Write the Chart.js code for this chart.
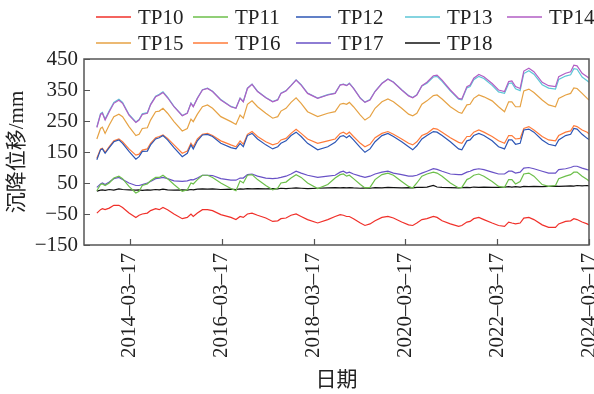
<!DOCTYPE html>
<html>
<head>
<meta charset="utf-8">
<script src="https://cdn.jsdelivr.net/npm/chart.js@4.4.1/dist/chart.umd.min.js"></script>
<style>
  html, body { margin: 0; padding: 0; background: #fff; }
  #wrap { width: 594px; height: 394px; }
</style>
</head>
<body>
<div id="wrap"><canvas id="settleChart" width="594" height="394"></canvas></div>
<script>
// fechas en años decimales
const dates = [
  2013.49, 2013.57, 2013.61, 2013.67, 2013.76, 2013.86, 2013.97, 2014.05, 2014.19, 2014.34,
  2014.41, 2014.48, 2014.59, 2014.66, 2014.77, 2014.85, 2014.93, 2015.03, 2015.17, 2015.35,
  2015.46, 2015.54, 2015.59, 2015.68, 2015.79, 2015.90, 2016.01, 2016.19, 2016.41, 2016.52,
  2016.61, 2016.68, 2016.77, 2016.87, 2016.99, 2017.17, 2017.32, 2017.43, 2017.50, 2017.61,
  2017.72, 2017.83, 2017.94, 2018.08, 2018.30, 2018.52, 2018.68, 2018.79, 2018.86, 2018.93,
  2018.99, 2019.08, 2019.23, 2019.33, 2019.44, 2019.55, 2019.70, 2019.83, 2019.95, 2020.13,
  2020.28, 2020.37, 2020.46, 2020.57, 2020.68, 2020.82, 2020.90, 2021.01, 2021.19, 2021.37,
  2021.44, 2021.55, 2021.62, 2021.70, 2021.81, 2021.92, 2022.10, 2022.24, 2022.37, 2022.46,
  2022.53, 2022.61, 2022.71, 2022.79, 2022.90, 2023.01, 2023.19, 2023.33, 2023.48, 2023.55,
  2023.70, 2023.81, 2023.88, 2023.95, 2024.06, 2024.17, 2024.21
];

const seriesNames = ['TP10', 'TP11', 'TP12', 'TP13', 'TP14', 'TP15', 'TP16', 'TP17', 'TP18'];

const tp10 = [
  -47, -36, -33, -36, -31, -22, -22, -29, -47, -61,
  -54, -50, -47, -39, -33, -36, -29, -36, -50, -65,
  -61, -50, -58, -47, -36, -36, -39, -52, -61, -68,
  -58, -61, -50, -47, -54, -63, -74, -72, -65, -63,
  -54, -50, -58, -68, -79, -68, -58, -52, -54, -58,
  -58, -65, -79, -87, -82, -72, -61, -58, -63, -76,
  -85, -87, -79, -68, -65, -58, -61, -72, -82, -90,
  -87, -76, -74, -65, -61, -68, -79, -87, -90, -76,
  -79, -82, -79, -63, -61, -68, -85, -93, -93, -82,
  -74, -72, -65, -68, -76, -82, -85
];
const tp11 = [
  25, 45, 47, 42, 50, 66, 72, 64, 39, 18,
  23, 42, 47, 57, 68, 68, 75, 64, 45, 23,
  28, 50, 47, 61, 75, 75, 68, 50, 32, 25,
  57, 50, 75, 77, 61, 42, 28, 34, 50, 53,
  66, 77, 68, 50, 32, 45, 66, 77, 79, 72,
  75, 64, 45, 34, 36, 61, 77, 82, 75, 55,
  39, 34, 50, 72, 79, 85, 82, 72, 50, 34,
  36, 61, 66, 75, 79, 72, 55, 39, 36, 61,
  61, 47, 55, 79, 82, 72, 45, 39, 42, 64,
  72, 77, 85, 85, 72, 61, 56
];
const tp12 = [
  125, 157, 160, 146, 164, 183, 189, 178, 152, 127,
  135, 152, 153, 173, 192, 196, 203, 189, 164, 135,
  146, 173, 160, 186, 205, 207, 200, 178, 164, 160,
  178, 167, 203, 210, 192, 173, 160, 167, 178, 186,
  203, 214, 200, 178, 157, 167, 181, 200, 203, 196,
  203, 189, 164, 149, 160, 183, 203, 210, 200, 183,
  167, 157, 170, 192, 203, 216, 214, 203, 183, 160,
  157, 186, 189, 203, 210, 203, 186, 167, 160, 189,
  189, 175, 178, 221, 224, 214, 189, 175, 170, 189,
  203, 207, 226, 224, 207, 194, 190
];
const tp13 = [
  231, 274, 278, 256, 283, 310, 320, 310, 271, 247,
  255, 273, 277, 304, 330, 336, 344, 327, 297, 268,
  276, 308, 297, 324, 351, 356, 346, 319, 297, 292,
  324, 313, 356, 369, 346, 326, 313, 319, 340, 348,
  365, 383, 367, 340, 324, 335, 340, 367, 369, 365,
  372, 356, 324, 311, 319, 346, 372, 386, 376, 351,
  332, 326, 335, 363, 372, 392, 394, 378, 347, 320,
  318, 357, 361, 383, 394, 387, 365, 344, 339, 371,
  373, 354, 348, 403, 412, 401, 367, 356, 353, 384,
  395, 399, 419, 417, 392, 380, 375
];
const tp14 = [
  229, 271, 275, 253, 280, 307, 317, 307, 269, 245,
  253, 271, 275, 302, 328, 334, 342, 325, 296, 267,
  275, 307, 296, 323, 350, 355, 345, 318, 296, 291,
  323, 312, 355, 368, 345, 325, 312, 318, 339, 347,
  364, 382, 366, 339, 323, 334, 339, 366, 368, 364,
  371, 355, 323, 310, 318, 345, 371, 385, 375, 350,
  331, 325, 334, 364, 375, 396, 398, 382, 350, 323,
  321, 361, 366, 388, 400, 393, 371, 350, 345, 377,
  379, 361, 355, 411, 420, 409, 375, 364, 361, 393,
  404, 409, 430, 428, 404, 393, 388
];
const tp15 = [
  192, 226, 230, 210, 237, 264, 272, 264, 232, 203,
  207, 226, 228, 253, 280, 282, 291, 275, 248, 218,
  226, 256, 248, 272, 296, 302, 291, 264, 248, 239,
  269, 259, 304, 315, 296, 275, 259, 264, 282, 291,
  310, 325, 307, 280, 264, 275, 280, 304, 307, 304,
  310, 296, 269, 253, 264, 291, 312, 321, 312, 291,
  272, 267, 275, 304, 315, 332, 334, 321, 296, 278,
  275, 302, 304, 323, 334, 328, 315, 296, 280, 312,
  312, 296, 296, 347, 353, 342, 318, 302, 296, 323,
  334, 339, 357, 355, 339, 323, 318
];
const tp16 = [
  130, 160, 162, 149, 167, 186, 192, 183, 160, 140,
  143, 156, 160, 178, 196, 200, 205, 194, 173, 146,
  153, 178, 167, 192, 207, 210, 203, 186, 173, 167,
  186, 175, 207, 216, 200, 183, 173, 178, 189, 194,
  210, 223, 210, 192, 178, 186, 192, 210, 214, 207,
  214, 200, 178, 167, 175, 196, 210, 216, 207, 192,
  178, 173, 183, 203, 210, 226, 224, 214, 196, 181,
  178, 200, 200, 214, 221, 214, 200, 186, 178, 203,
  203, 192, 194, 226, 232, 221, 200, 189, 186, 203,
  214, 218, 235, 232, 221, 214, 208
];
const tp17 = [
  36, 47, 50, 45, 53, 64, 68, 61, 50, 42,
  42, 45, 50, 55, 64, 66, 68, 64, 57, 55,
  57, 61, 60, 66, 75, 75, 74, 64, 59, 59,
  66, 66, 77, 79, 72, 66, 64, 66, 68, 72,
  79, 88, 82, 75, 68, 72, 75, 85, 88, 82,
  85, 79, 72, 68, 72, 79, 85, 88, 82, 77,
  72, 72, 75, 82, 88, 96, 94, 88, 79, 77,
  77, 85, 88, 93, 96, 93, 85, 79, 79, 88,
  88, 82, 85, 98, 100, 96, 88, 82, 82, 93,
  96, 100, 104, 104, 98, 93, 92
];
const tp18 = [
  24, 27, 28, 26, 29, 27, 31, 29, 28, 27,
  28, 26, 28, 27, 29, 28, 30, 28, 27, 28,
  27, 29, 28, 30, 31, 30, 31, 29, 30, 29,
  31, 30, 32, 31, 32, 31, 32, 31, 33, 32,
  33, 34, 33, 32, 33, 34, 35, 34, 35, 34,
  35, 34, 33, 34, 33, 35, 34, 36, 35, 34,
  35, 34, 36, 36, 37, 42, 37, 36, 35, 34,
  35, 36, 35, 37, 36, 37, 36, 36, 37, 38,
  37, 38, 37, 39, 38, 39, 38, 39, 40, 39,
  40, 41, 40, 42, 41, 42, 41
];

const tickYears = [2014.21, 2016.21, 2018.21, 2020.21, 2022.21, 2024.21];
const tickLabels = ['2014–03–17', '2016–03–17', '2018–03–17', '2020–03–17', '2022–03–17', '2024–03–17'];

const seriesColors = ['#f0302a', '#6cbf4a', '#2d56b5', '#5cc6d6', '#b25ec4', '#e6a244', '#ff7b3a', '#6952c6', '#111111'];
// TP13 debajo de TP14
const seriesOrder = [0, 0, 0, 1, 0, 0, 0, 0, 0];
const allSeries = [tp10, tp11, tp12, tp13, tp14, tp15, tp16, tp17, tp18];

const serif = '"Liberation Serif", "Noto Sans CJK SC", serif';
const fontSize = 21;

// leyenda en rejilla de 5 columnas y marco con marcas hacia dentro
const gridLegend = {
    id: 'gridLegend',
    afterDraw(chart, args, opts) {
        const ctx = chart.ctx;
        ctx.save();
        ctx.font = fontSize + 'px ' + serif;
        ctx.textBaseline = 'middle';
        ctx.textAlign = 'left';
        chart.data.datasets.forEach((ds, i) => {
            const x = opts.cols[i % 5];
            const y = opts.rows[Math.floor(i / 5)];
            ctx.strokeStyle = ds.borderColor;
            ctx.lineWidth = 1.3;
            ctx.beginPath();
            ctx.moveTo(x, y);
            ctx.lineTo(x + 35, y);
            ctx.stroke();
            ctx.fillStyle = '#222';
            ctx.fillText(ds.label, x + 42, y + 1);
        });
        ctx.restore();
    }
};

const frame = {
    id: 'frame',
    afterDraw(chart) {
        const ctx = chart.ctx;
        const a = chart.chartArea;
        const xs = chart.scales.x, ys = chart.scales.y;
        ctx.save();
        ctx.strokeStyle = '#555';
        ctx.lineWidth = 1.5;
        ctx.strokeRect(a.left, a.top, a.right - a.left, a.bottom - a.top);
        ctx.lineWidth = 1.2;
        ctx.beginPath();
        xs.ticks.forEach(t => {
            const px = Math.round(xs.getPixelForValue(t.value)) + 0.5;
            ctx.moveTo(px, a.bottom);
            ctx.lineTo(px, a.bottom - 6);
        });
        ys.ticks.forEach(t => {
            const py = Math.round(ys.getPixelForValue(t.value)) + 0.5;
            ctx.moveTo(a.left, py);
            ctx.lineTo(a.left + 6, py);
        });
        ctx.stroke();
        ctx.restore();
    }
};

const settleConfig = {
    type: 'line',
    data: {
        datasets: allSeries.map((vals, i) => ({
            label: seriesNames[i],
            data: vals.map((v, j) => ({ x: dates[j], y: v })),
            borderColor: seriesColors[i],
            backgroundColor: seriesColors[i],
            order: seriesOrder[i],
            borderWidth: 1.2,
            pointRadius: 0,
            tension: 0,
            fill: false
        }))
    },
    options: {
        responsive: false,
        animation: false,
        layout: { padding: { top: 59, right: 5, left: 0, bottom: 0 } },
        plugins: {
            legend: { display: false },
            tooltip: { enabled: false },
            gridLegend: { cols: [96, 193, 296, 405, 507], rows: [17, 43] }
        },
        scales: {
            x: {
                type: 'linear',
                min: 2013.21,
                max: 2024.21,
                afterBuildTicks: (scale) => {
                    scale.ticks = tickYears.map(v => ({ value: v }));
                },
                afterFit: (scale) => {
                    scale.height = 149;
                    scale.paddingLeft = 0;
                    scale.paddingRight = 0;
                },
                grid: { display: false, drawTicks: false },
                border: { display: false },
                ticks: {
                    autoSkip: false,
                    minRotation: 90,
                    maxRotation: 90,
                    padding: 8,
                    color: '#222',
                    font: { family: serif, size: fontSize },
                    callback: (v) => {
                        const k = tickYears.indexOf(v);
                        return k >= 0 ? tickLabels[k] : '';
                    }
                },
                title: {
                    display: true,
                    text: '日期',
                    color: '#222',
                    padding: { top: 0, bottom: 1 },
                    font: { family: serif, size: fontSize }
                }
            },
            y: {
                min: -150,
                max: 450,
                ticks: {
                    stepSize: 100,
                    padding: 6,
                    color: '#222',
                    font: { family: serif, size: fontSize },
                    callback: (v) => v < 0 ? '\u2212' + Math.abs(v) : String(v)
                },
                afterFit: (scale) => { scale.width = 84; },
                grid: { display: false, drawTicks: false },
                border: { display: false },
                title: {
                    display: true,
                    text: '沉降位移/mm',
                    color: '#222',
                    padding: { top: 5, bottom: 0 },
                    font: { family: serif, size: fontSize }
                }
            }
        }
    },
    plugins: [gridLegend, frame]
};

const settleChart = new Chart(document.getElementById('settleChart'), settleConfig);
</script>
</body>
</html>
